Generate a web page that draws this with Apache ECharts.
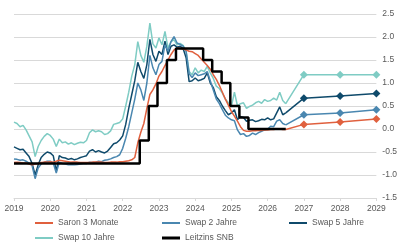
<!DOCTYPE html>
<html>
<head>
<meta charset="utf-8">
<script src="https://cdn.jsdelivr.net/npm/echarts@6/dist/echarts.min.js"></script>
<style>
  html, body { margin: 0; padding: 0; background: #fff; }
  #chart { width: 400px; height: 250px; }
</style>
</head>
<body>
<div id="chart"></div>
<script>
// monthly values, Jan 2019 .. Jul 2026
const startYear = 2019
const saron = [
  -0.73, -0.72, -0.73, -0.74, -0.74, -0.76, -0.78, -0.76, -0.75, -0.73, -0.72, -0.72,
  -0.71, -0.72, -0.70, -0.68, -0.69, -0.70, -0.71, -0.72, -0.72, -0.72, -0.73, -0.73,
  -0.73, -0.73, -0.72, -0.72, -0.72, -0.72, -0.73, -0.73, -0.72, -0.72, -0.72, -0.71,
  -0.71, -0.70, -0.69, -0.67, -0.62, -0.30, -0.07, 0.12, 0.45, 0.75, 0.85, 0.98,
  1.15, 1.25, 1.38, 1.50, 1.62, 1.72, 1.76, 1.75, 1.74, 1.72, 1.69, 1.68,
  1.64, 1.60, 1.52, 1.45, 1.38, 1.30, 1.18, 1.08, 0.95, 0.80, 0.65, 0.52,
  0.38, 0.28, 0.17, 0.05, -0.03, -0.05, -0.05, -0.04, -0.04, -0.03, -0.03, -0.02,
  -0.02, -0.01, -0.01, 0.00, 0.00, -0.01, -0.01
]
const swap2 = [
  -0.65, -0.66, -0.68, -0.67, -0.70, -0.74, -0.80, -1.08, -0.85, -0.76, -0.72, -0.70,
  -0.70, -0.74, -0.96, -0.72, -0.75, -0.76, -0.78, -0.77, -0.78, -0.77, -0.76, -0.75,
  -0.75, -0.72, -0.73, -0.72, -0.70, -0.71, -0.68, -0.67, -0.65, -0.62, -0.60, -0.56,
  -0.42, -0.20, 0.05, 0.35, 0.65, 1.00, 0.85, 0.62, 1.00, 1.60, 1.33, 1.18,
  1.40, 1.47, 1.83, 1.69, 1.90, 2.01, 1.87, 1.84, 1.80, 1.69, 1.20, 1.12,
  1.22, 1.16, 1.18, 1.20, 1.25, 1.05, 0.85, 0.65, 0.55, 0.42, 0.30, 0.24,
  0.20, 0.18, -0.02, -0.12, -0.10, -0.16, -0.14, -0.09, -0.12, -0.08, -0.05, -0.02,
  0.00, 0.06, 0.05, 0.17, 0.20, 0.12, 0.09
]
const swap5 = [
  -0.39, -0.42, -0.45, -0.44, -0.52, -0.60, -0.75, -1.00, -0.78, -0.62, -0.55, -0.50,
  -0.52, -0.58, -0.92, -0.58, -0.62, -0.63, -0.66, -0.64, -0.67, -0.65, -0.62, -0.60,
  -0.58, -0.48, -0.45, -0.50, -0.47, -0.50, -0.52, -0.48, -0.40, -0.32, -0.30, -0.24,
  -0.15, 0.10, 0.45, 0.75, 1.05, 1.45, 1.25, 1.10, 1.40, 1.95, 1.62, 1.47,
  1.69, 1.62, 1.91, 1.62, 1.80, 1.83, 1.78, 1.80, 1.75, 1.55, 1.03, 1.05,
  1.11, 1.05, 1.07, 1.10, 1.22, 1.00, 0.90, 0.70, 0.62, 0.50, 0.40, 0.31,
  0.35, 0.42, 0.20, 0.27, 0.25, 0.17, 0.19, 0.20, 0.16, 0.18, 0.21, 0.20,
  0.24, 0.20, 0.22, 0.35, 0.48, 0.31, 0.35
]
const swap10 = [
  0.15, 0.12, 0.05, 0.08, -0.02, -0.15, -0.28, -0.60, -0.38, -0.25, -0.16, -0.10,
  -0.14, -0.22, -0.38, -0.22, -0.30, -0.28, -0.33, -0.30, -0.34, -0.31, -0.29, -0.30,
  -0.25, -0.08, -0.02, -0.06, -0.04, -0.06, -0.12, -0.10, -0.04, 0.10, 0.12, 0.14,
  0.22, 0.50, 0.80, 1.15, 1.40, 1.90, 1.60, 1.45, 1.80, 2.30, 1.85, 1.76,
  1.98, 1.83, 2.12, 1.76, 1.90, 1.94, 1.83, 1.86, 1.82, 1.69, 1.25, 1.18,
  1.33, 1.22, 1.28, 1.25, 1.36, 1.22, 1.10, 0.93, 0.88, 0.78, 0.65, 0.57,
  0.49, 0.80, 0.50, 0.55, 0.57, 0.45, 0.49, 0.52, 0.57, 0.60, 0.56, 0.64,
  0.60, 0.62, 0.67, 0.63, 0.80, 0.62, 0.55
]

// SNB policy rate: change dates (decimal years) and levels
const snbDates = [2019.0, 2022.47, 2022.72, 2022.96, 2023.22, 2023.47, 2024.22, 2024.47, 2024.73, 2024.97, 2025.22, 2025.47, 2026.5]
const snbRates = [-0.75, -0.25, 0.5, 1.0, 1.5, 1.75, 1.5, 1.25, 1.0, 0.5, 0.25, 0.0, 0.0]

// forecasts
const forecastYears = [2027, 2028, 2029]
const saronFc = [0.10, 0.15, 0.22]
const swap2Fc = [0.31, 0.35, 0.42]
const swap5Fc = [0.67, 0.72, 0.77]
const swap10Fc = [1.18, 1.18, 1.18]

const yTicks = [-1.5, -1.0, -0.5, 0.0, 0.5, 1.0, 1.5, 2.0, 2.5]

const colors = {
  saron: '#e0603e',
  swap2: '#4a87b0',
  swap5: '#0f4a6b',
  swap10: '#7fccc4'
}

const months = saron.map((_, i) => startYear + i / 12)
const toPairs = arr => arr.map((v, i) => [months[i], v])
const lastX = months[months.length - 1]

function histSeries(name, arr, color) {
  return {
    name: name,
    type: 'line',
    data: toPairs(arr),
    symbol: 'none',
    lineStyle: { color: color, width: 1.5 },
    itemStyle: { color: color }
  }
}

function fcSeries(name, arr, fc, color) {
  const data = [{ value: [lastX, arr[arr.length - 1]], symbol: 'none' }]
  fc.forEach((v, i) => data.push([forecastYears[i], v]))
  return {
    name: name,
    type: 'line',
    data: data,
    symbol: 'diamond',
    symbolSize: 8,
    clip: false,
    lineStyle: { color: color, width: 1.5 },
    itemStyle: { color: color }
  }
}

const labelFont = { color: '#595959', fontSize: 8.5, fontFamily: 'Liberation Sans' }

// one legend per entry, placed like the excel legend grid
function legendItem(name, left, top, thick) {
  return {
    data: [name],
    left: left,
    top: top,
    padding: 0,
    icon: 'rect',
    itemWidth: 18,
    itemHeight: thick,
    selectedMode: false,
    textStyle: { color: '#595959', fontSize: 8.5, fontFamily: 'Liberation Sans', lineHeight: 12 }
  }
}

const chart = echarts.init(document.getElementById('chart'))
chart.setOption({
  animation: false,
  grid: { left: 14, right: 23, top: 14, bottom: 52 },
  legend: [
    legendItem('Saron 3 Monate', 35, 217, 2),
    legendItem('Swap 2 Jahre', 162, 217, 2),
    legendItem('Swap 5 Jahre', 289, 217, 2),
    legendItem('Swap 10 Jahre', 35, 232, 2),
    legendItem('Leitzins SNB', 162, 232, 3)
  ],
  xAxis: [
    {
      type: 'value',
      min: 2019,
      max: 2029,
      interval: 1,
      axisLine: { show: false },
      axisTick: { show: false },
      splitLine: { show: false },
      axisLabel: Object.assign({ margin: 6, formatter: v => String(v) }, labelFont)
    },
    {
      // zero line with year ticks
      type: 'value',
      min: 2019,
      max: 2029,
      interval: 1,
      position: 'bottom',
      axisLine: { show: true, onZero: true, lineStyle: { color: '#d9d9d9', width: 1 } },
      axisTick: { show: true, length: 3, lineStyle: { color: '#d9d9d9' } },
      axisLabel: { show: false },
      splitLine: { show: false }
    }
  ],
  yAxis: {
    type: 'value',
    position: 'right',
    min: yTicks[0],
    max: yTicks[yTicks.length - 1],
    interval: 0.5,
    axisLine: { show: false },
    axisTick: { show: false },
    splitLine: { lineStyle: { color: '#d9d9d9', width: 1 } },
    axisLabel: Object.assign({ margin: 6, formatter: v => v.toFixed(1) }, labelFont)
  },
  series: [
    histSeries('Swap 10 Jahre', swap10, colors.swap10),
    histSeries('Swap 5 Jahre', swap5, colors.swap5),
    histSeries('Swap 2 Jahre', swap2, colors.swap2),
    histSeries('Saron 3 Monate', saron, colors.saron),
    fcSeries('Swap 10 Prognose', swap10, swap10Fc, colors.swap10),
    fcSeries('Swap 5 Prognose', swap5, swap5Fc, colors.swap5),
    fcSeries('Swap 2 Prognose', swap2, swap2Fc, colors.swap2),
    fcSeries('Saron Prognose', saron, saronFc, colors.saron),
    {
      name: 'Leitzins SNB',
      type: 'line',
      step: 'end',
      data: snbDates.map((d, i) => [d, snbRates[i]]),
      symbol: 'none',
      lineStyle: { color: '#000', width: 2.5 },
      itemStyle: { color: '#000' },
      z: 5
    }
  ]
})
</script>
</body>
</html>
